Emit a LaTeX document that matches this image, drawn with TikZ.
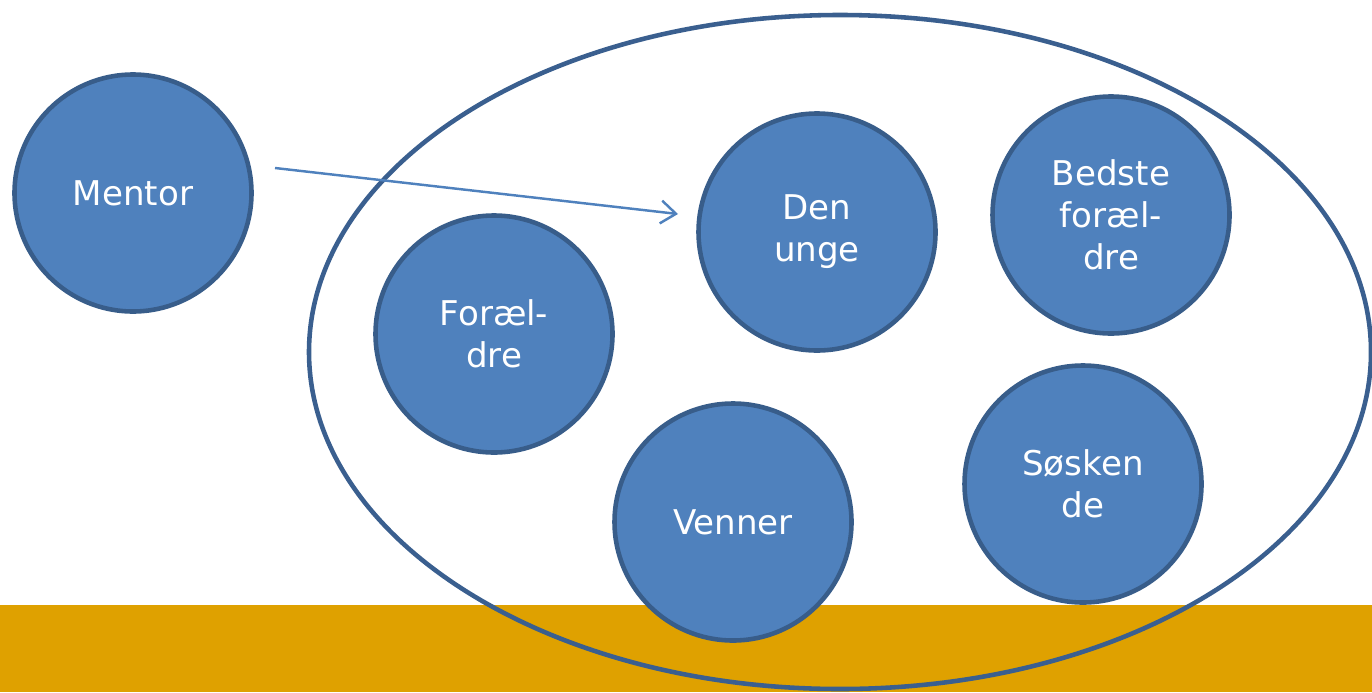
\documentclass[tikz,border=0pt]{standalone}
\usepackage{fontspec}
\setmainfont{DejaVu Sans}
\usepackage{xcolor}
\usetikzlibrary{arrows.meta,positioning,shapes.geometric}
\definecolor{circfill}{HTML}{4F81BD}
\definecolor{circline}{HTML}{385D8A}
\definecolor{ringline}{HTML}{3A5F8F}
\definecolor{goldbar}{HTML}{DFA100}

\begin{document}
\begin{tikzpicture}[
  person/.style={circle,draw=circline,fill=circfill,line width=1.3pt,minimum size=2.37cm,
    text=white,align=center,font=\fontsize{9.7}{12}\selectfont,inner sep=0pt}]
\useasboundingbox (0,0) rectangle (13.72,6.92);
\fill[goldbar] (0,0) rectangle (13.72,0.87);
\node[ellipse,draw=ringline,line width=1.3pt,minimum width=10.62cm,minimum height=6.74cm,inner sep=0pt] (ring) at (8.40,3.40) {};
\node[person] (M) at (1.33,4.99) {Mentor};
\node[person] (U) at (8.17,4.60) {Den\\unge};
\node[person] (B) at (11.11,4.77) {Bedste\\foræl-\\dre};
\node[person] (F) at (4.94,3.58) {Foræl-\\dre};
\node[person] (V) at (7.33,1.70) {Venner};
\node[person] (S) at (10.83,2.08) {Søsken\\de};
\coordinate (a) at (2.75,5.24);
\coordinate (b) at (6.78,4.78);
\draw[-{Straight Barb[length=4.3pt,width=6.5pt]},draw=circfill,line width=0.7pt] (a) -- (b);
\end{tikzpicture}
\end{document}
